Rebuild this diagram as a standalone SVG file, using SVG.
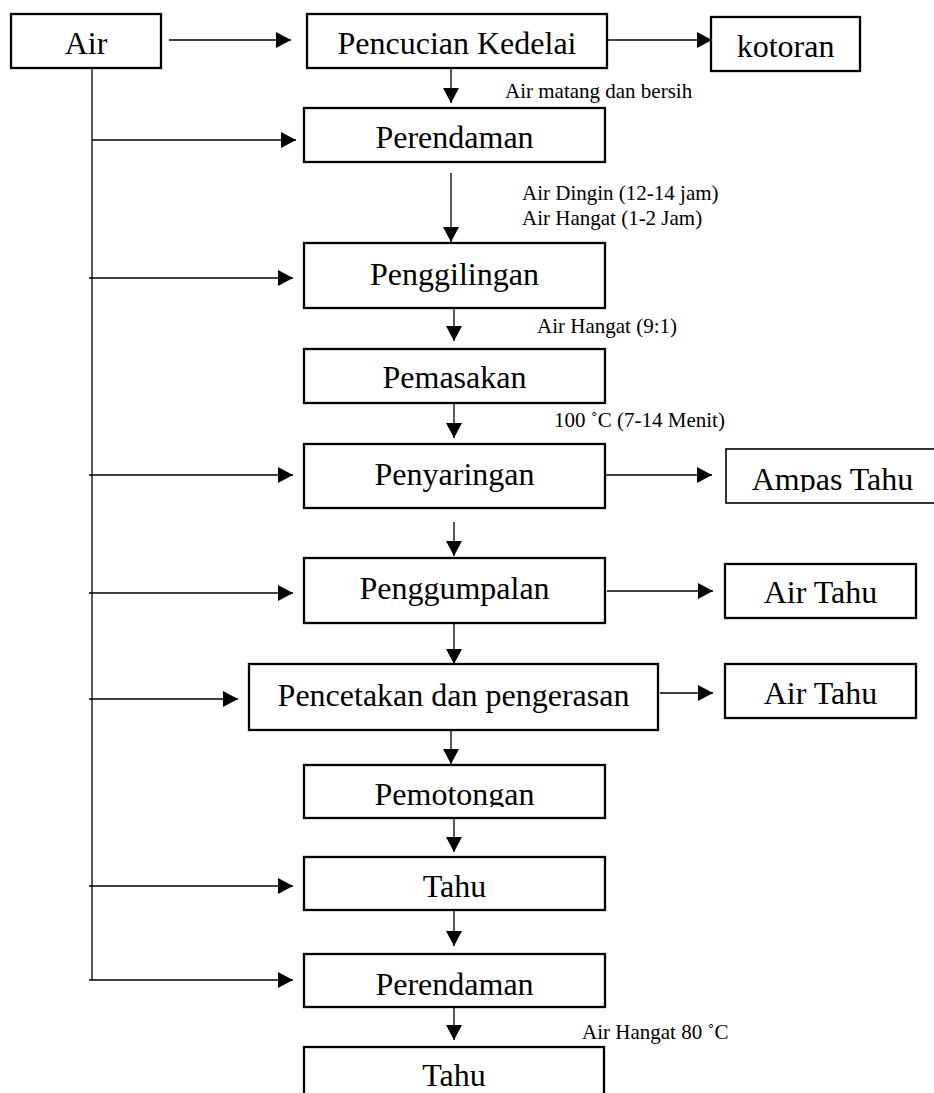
<svg xmlns="http://www.w3.org/2000/svg" width="934" height="1093" viewBox="0 0 934 1093">
<style>
.box{fill:#fff;stroke:#000;stroke-width:2.3}
.thin{fill:#fff;stroke:#000;stroke-width:1.6}
.big{font-family:"Liberation Serif","Times New Roman",serif;font-size:32px;fill:#000;text-anchor:middle}
.small{font-family:"Liberation Serif","Times New Roman",serif;font-size:21px;fill:#000}
.ln{stroke:#000;stroke-width:1.3;fill:none}
.arr{marker-end:url(#ah)}
</style>
<defs>
<marker id="ah" markerUnits="userSpaceOnUse" markerWidth="16" markerHeight="16" refX="15" refY="8" orient="auto">
<path d="M0,0 L15,8 L0,16 z" fill="#000"/>
</marker>
<clipPath id="clipAmpas"><rect x="720" y="440" width="220" height="52"/></clipPath>
<clipPath id="clipPemo"><rect x="300" y="760" width="310" height="47"/></clipPath>
</defs>
<rect width="934" height="1093" fill="#fff"/>
<g id="connectors">
<line class="ln" x1="92" y1="68" x2="92" y2="980"/>
<line class="ln arr" x1="169" y1="40" x2="291" y2="40"/>
<line class="ln arr" x1="607" y1="40" x2="712" y2="40"/>
<line class="ln arr" x1="451" y1="68" x2="451" y2="103"/>
<line class="ln arr" x1="92" y1="140" x2="296" y2="140"/>
<line class="ln arr" x1="451" y1="173" x2="451" y2="242"/>
<line class="ln arr" x1="89" y1="278" x2="293" y2="278"/>
<line class="ln arr" x1="454" y1="308" x2="454" y2="341"/>
<line class="ln arr" x1="454" y1="403" x2="454" y2="438"/>
<line class="ln arr" x1="89" y1="475" x2="293" y2="475"/>
<line class="ln arr" x1="605" y1="475" x2="712" y2="475"/>
<line class="ln arr" x1="454" y1="522" x2="454" y2="556"/>
<line class="ln arr" x1="89" y1="593" x2="293" y2="593"/>
<line class="ln arr" x1="607" y1="591" x2="713" y2="591"/>
<line class="ln arr" x1="454" y1="623" x2="454" y2="664"/>
<line class="ln arr" x1="89" y1="699" x2="238" y2="699"/>
<line class="ln arr" x1="660" y1="693" x2="713" y2="693"/>
<line class="ln arr" x1="451" y1="730" x2="451" y2="764"/>
<line class="ln arr" x1="454" y1="818" x2="454" y2="852"/>
<line class="ln arr" x1="89" y1="886" x2="293" y2="886"/>
<line class="ln arr" x1="454" y1="910" x2="454" y2="946"/>
<line class="ln arr" x1="89" y1="980" x2="293" y2="980"/>
<line class="ln arr" x1="454" y1="1007" x2="454" y2="1040"/>
</g>
<g id="labels">
<text class="small" x="505" y="98">Air matang dan bersih</text>
<text class="small" x="522" y="200">Air Dingin (12-14 jam)</text>
<text class="small" x="522" y="225">Air Hangat (1-2 Jam)</text>
<text class="small" x="537" y="333">Air Hangat (9:1)</text>
<text class="small" x="554" y="427">100 ˚C (7-14 Menit)</text>
<text class="small" x="582" y="1039">Air Hangat 80 ˚C</text>
</g>
<g id="air"><rect class="box" x="11" y="14" width="150" height="54"/><text class="big" x="86" y="54">Air</text></g>
<g id="pencucian"><rect class="box" x="307" y="14" width="300" height="54"/><text class="big" x="457" y="54">Pencucian Kedelai</text></g>
<g id="kotoran"><rect class="box" x="711" y="17" width="149" height="54"/><text class="big" x="785.5" y="57">kotoran</text></g>
<g id="perendaman1"><rect class="box" x="304" y="108" width="301" height="54"/><text class="big" x="454.5" y="148">Perendaman</text></g>
<g id="penggilingan"><rect class="box" x="304" y="243" width="301" height="65"/><text class="big" x="454.5" y="285">Penggilingan</text></g>
<g id="pemasakan"><rect class="box" x="304" y="349" width="301" height="54"/><text class="big" x="454.5" y="388">Pemasakan</text></g>
<g id="penyaringan"><rect class="box" x="304" y="444" width="301" height="64"/><text class="big" x="454.5" y="485">Penyaringan</text></g>
<g id="ampas"><rect class="thin" x="726" y="449" width="220" height="54"/><text class="big" x="832.5" y="490" clip-path="url(#clipAmpas)">Ampas Tahu</text></g>
<g id="penggumpalan"><rect class="box" x="304" y="558" width="301" height="65"/><text class="big" x="454.5" y="599">Penggumpalan</text></g>
<g id="airtahu1"><rect class="box" x="725" y="564" width="191" height="54"/><text class="big" x="820.5" y="603">Air Tahu</text></g>
<g id="pencetakan"><rect class="box" x="249" y="664" width="409" height="66"/><text class="big" x="453.5" y="706">Pencetakan dan pengerasan</text></g>
<g id="airtahu2"><rect class="box" x="725" y="664" width="191" height="54"/><text class="big" x="820.5" y="704">Air Tahu</text></g>
<g id="pemotongan"><rect class="box" x="304" y="765" width="301" height="53"/><text class="big" x="454.5" y="805" clip-path="url(#clipPemo)">Pemotongan</text></g>
<g id="tahu1"><rect class="box" x="304" y="857" width="301" height="53"/><text class="big" x="454.5" y="897">Tahu</text></g>
<g id="perendaman2"><rect class="box" x="304" y="954" width="301" height="53"/><text class="big" x="454.5" y="995">Perendaman</text></g>
<g id="tahu2"><rect class="box" x="304" y="1047" width="300" height="60"/><text class="big" x="454" y="1086">Tahu</text></g>
</svg>
